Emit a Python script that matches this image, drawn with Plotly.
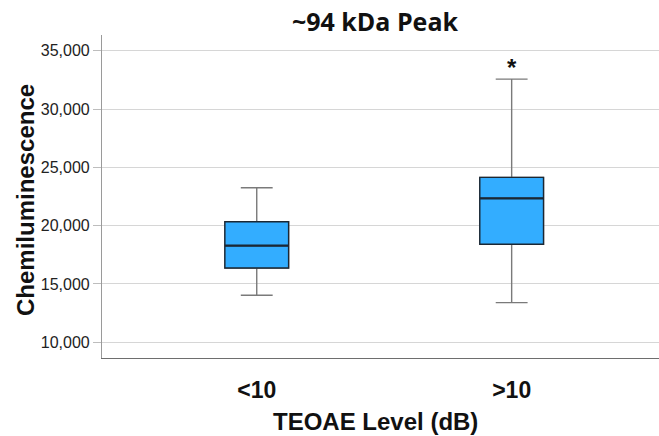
import plotly.graph_objects as go

# Data
categories = ["<10", ">10"]
q1_vals = [16370, 18400]
median_vals = [18290, 22340]
q3_vals = [20340, 24140]
lower_whisker = [14030, 13400]
upper_whisker = [23250, 32570]
outlier_cat = [">10"]
outlier_vals = [33350]
y_ticks = [10000, 15000, 20000, 25000, 30000, 35000]
y_tick_text = ["10,000", "15,000", "20,000", "25,000", "30,000", "35,000"]

BOX_FILL = "#33adff"
BOX_LINE = "#1b2733"
WHISKER = "#7a7a7a"

fig = go.Figure()

# Whiskers (gray)
fig.add_trace(go.Box(
    x=categories, q1=q1_vals, median=median_vals, q3=q3_vals,
    lowerfence=lower_whisker, upperfence=upper_whisker,
    width=0.25, whiskerwidth=0.5,
    fillcolor=BOX_FILL, line=dict(color=WHISKER, width=1.4),
    boxpoints=False, showlegend=False, hoverinfo="skip",
))
# Box body (dark outline) on top
fig.add_trace(go.Box(
    x=categories, q1=q1_vals, median=median_vals, q3=q3_vals,
    lowerfence=q1_vals, upperfence=q3_vals,
    width=0.25, whiskerwidth=0,
    fillcolor=BOX_FILL, line=dict(color=BOX_LINE, width=1.4),
    boxpoints=False, showlegend=False,
))
# Thicker median line
fig.add_trace(go.Box(
    x=categories, q1=median_vals, median=median_vals, q3=median_vals,
    lowerfence=median_vals, upperfence=median_vals,
    width=0.25, whiskerwidth=0,
    fillcolor="rgba(0,0,0,0)", line=dict(color=BOX_LINE, width=2.2),
    boxpoints=False, showlegend=False, hoverinfo="skip",
))
# Extreme outlier marker
fig.add_trace(go.Scatter(
    x=outlier_cat, y=outlier_vals, mode="text", text=["<b>*</b>"],
    textposition="middle center",
    textfont=dict(family="Liberation Sans", size=24, color="#111111"),
    showlegend=False, hoverinfo="skip",
))

plot_w = 659 - 102
plot_h = 436 - 35 - 78

fig.update_layout(
    width=659, height=436,
    margin=dict(l=102, r=0, t=35, b=78, autoexpand=False),
    paper_bgcolor="white", plot_bgcolor="white",
    boxmode="overlay",
    title=dict(text="<b>~94 kDa Peak</b>", x=0.569, xref="container", xanchor="center",
               y=1 - 22 / 436, yref="container", yanchor="middle",
               font=dict(family="Open Sans", size=25, color="#111111")),
    font=dict(family="Liberation Sans", color="#222222"),
    annotations=[
        dict(text="<b>Chemiluminescence</b>", textangle=-90,
             x=(25 - 102) / plot_w, xref="paper", xanchor="center",
             y=(358 - 200) / plot_h, yref="paper", yanchor="middle", showarrow=False,
             font=dict(family="Liberation Sans", size=24, color="#111111")),
        dict(text="<b>TEOAE Level (dB)</b>",
             x=(375 - 102) / plot_w, xref="paper", xanchor="center",
             y=-(421 - 358) / plot_h, yref="paper", yanchor="middle", showarrow=False,
             font=dict(family="Liberation Sans", size=24, color="#111111")),
    ],
)

fig.update_xaxes(
    type="category", categoryorder="array", categoryarray=categories,
    range=[-0.607, 1.578], automargin=False,
    showgrid=False, showline=True, linecolor="#6e6e6e", linewidth=1.3,
    ticks="", ticklabelstandoff=11,
    tickfont=dict(family="Liberation Sans", size=23, color="#111111"),
    tickprefix="<b>", ticksuffix="</b>",
    zeroline=False,
)

fig.update_yaxes(
    range=[8650, 36350], automargin=False,
    tickvals=y_ticks, ticktext=y_tick_text,
    showgrid=True, gridcolor="#d6d6d6", gridwidth=1,
    showline=True, linecolor="#9a9a9a", linewidth=1.2,
    ticks="outside", ticklen=8, tickcolor="#bdbdbd", tickwidth=1,
    tickfont=dict(family="Liberation Sans", size=16, color="#222222"),
    zeroline=False,
)

fig.write_html(
    "out.html",
    config={"displayModeBar": False},
    post_script="document.body.style.margin='0';document.body.style.overflow='hidden';",
)
